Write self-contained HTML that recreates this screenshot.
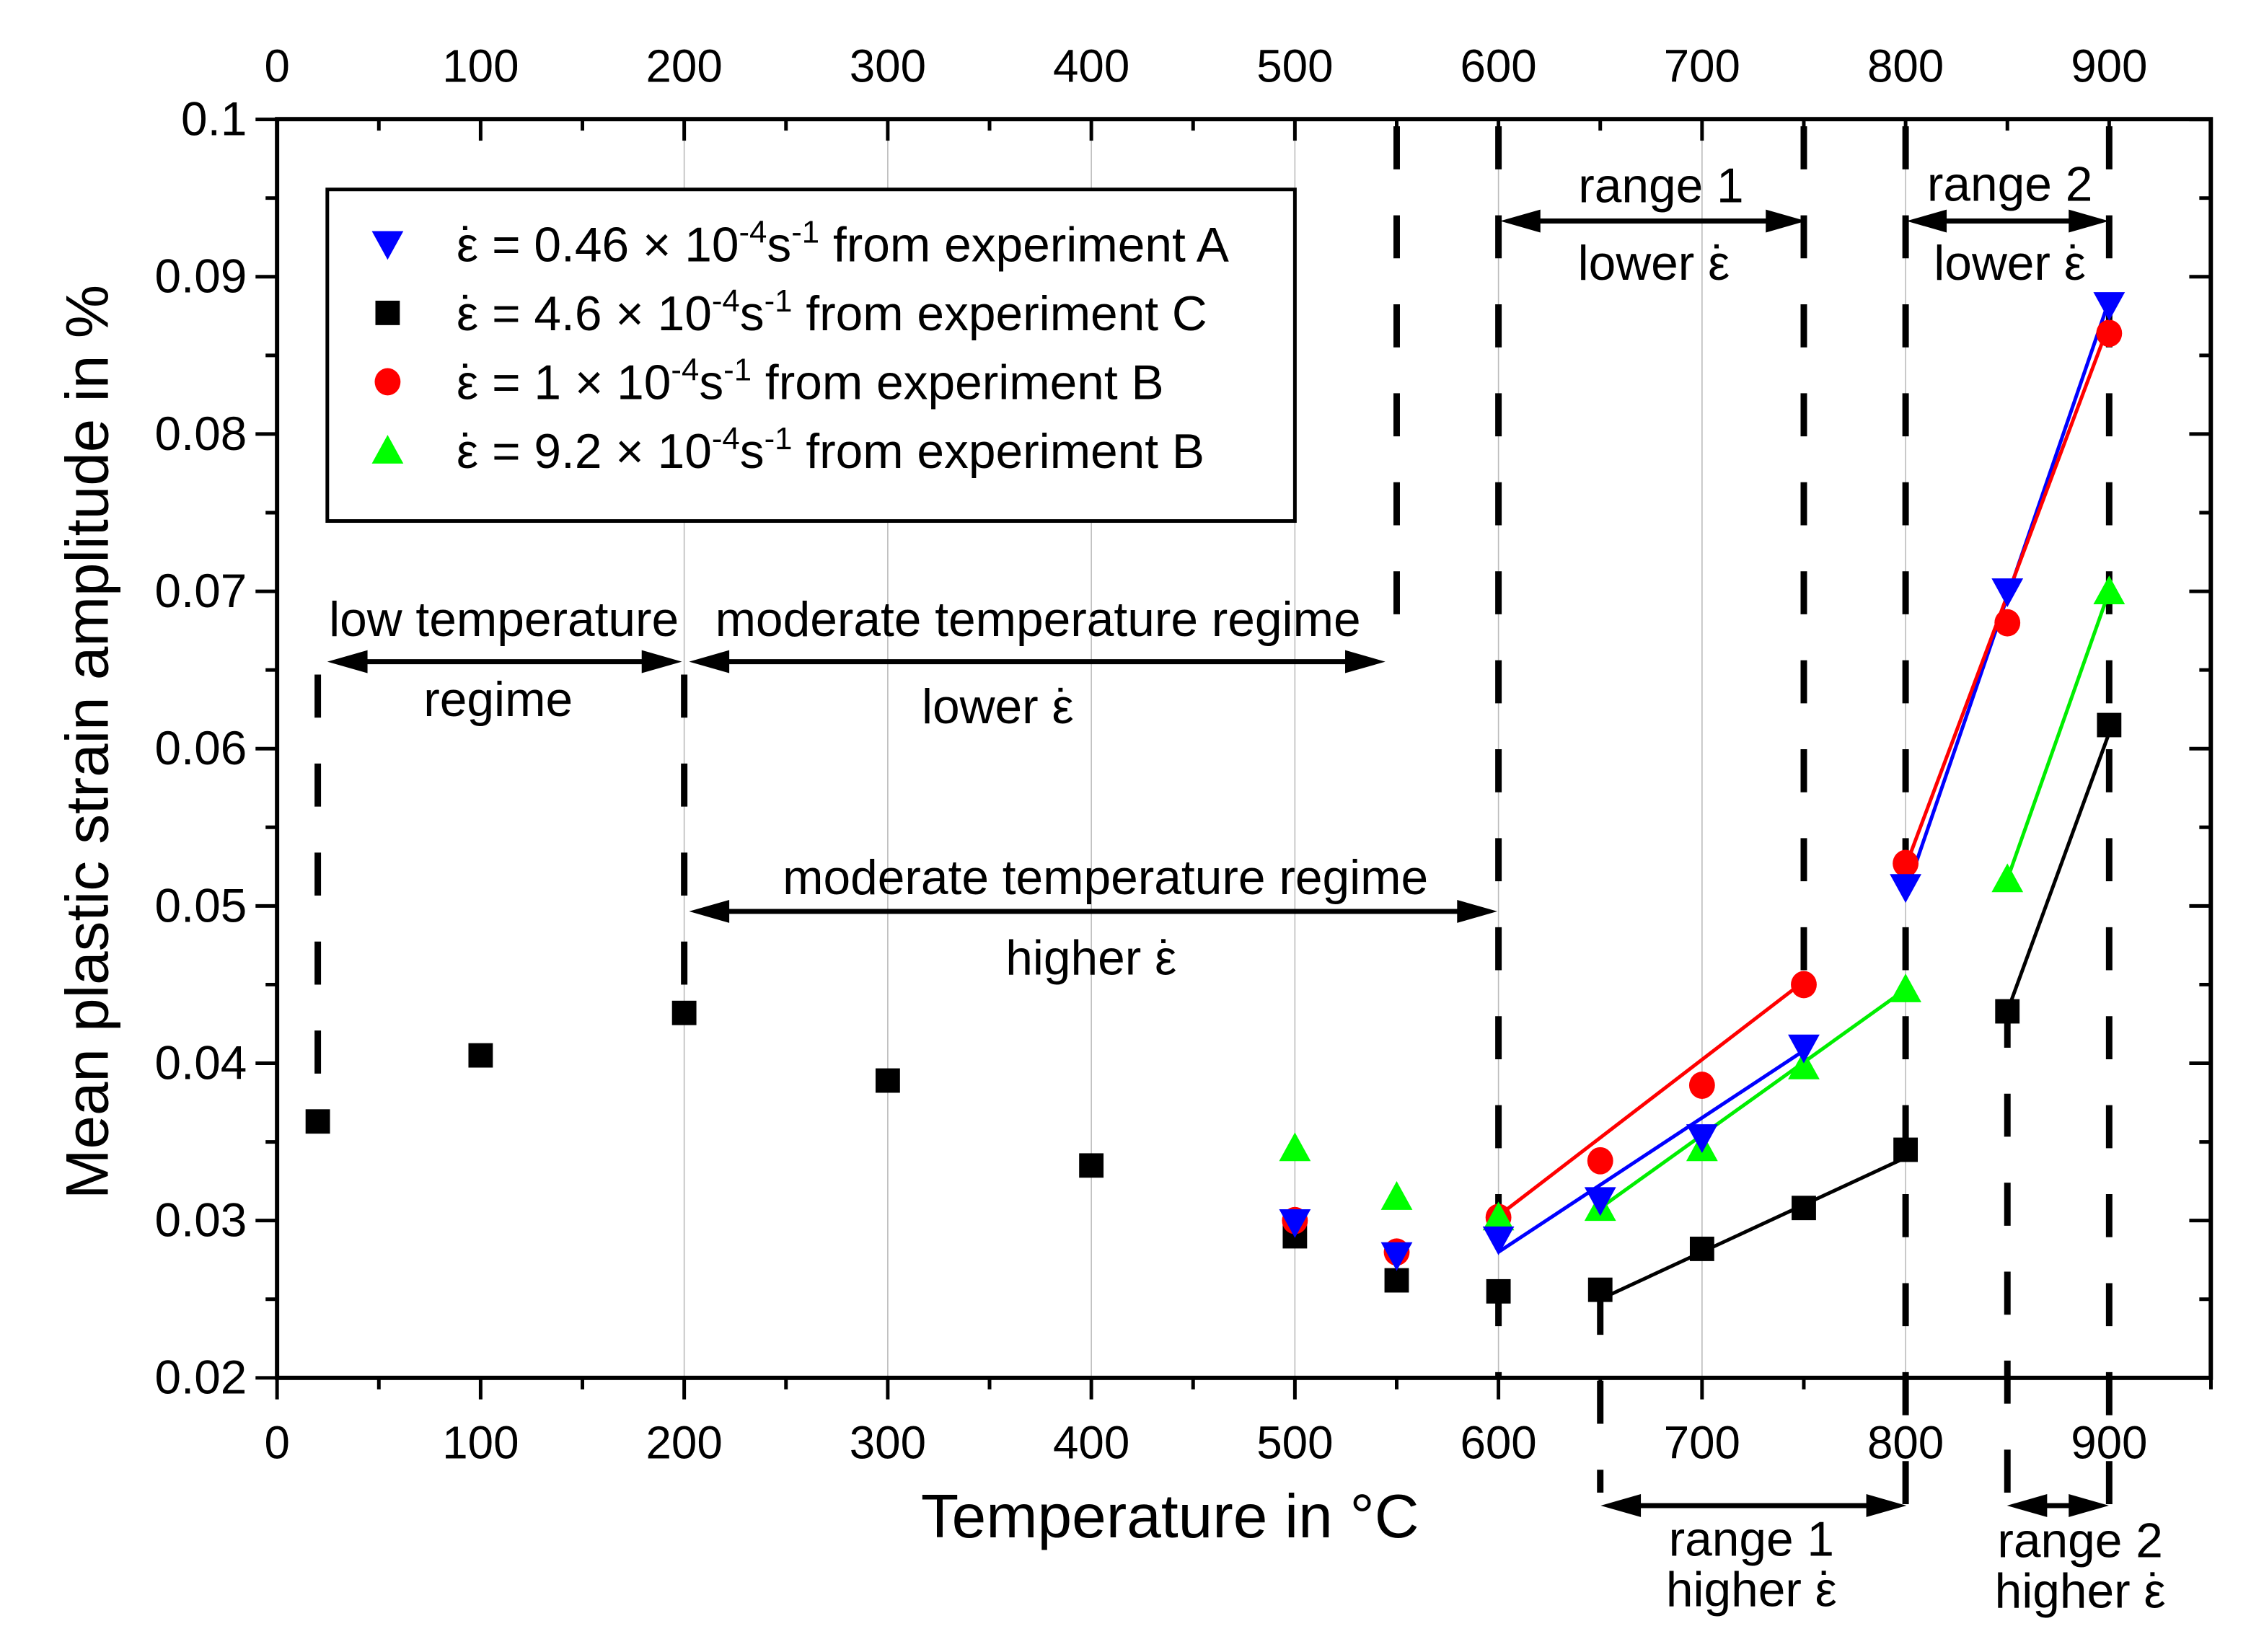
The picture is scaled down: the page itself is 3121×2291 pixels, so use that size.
<!DOCTYPE html>
<html><head><meta charset="utf-8"><style>
html,body{margin:0;padding:0;background:#fff;}
svg{display:block;font-family:"Liberation Sans",Arial,sans-serif;}
</style></head><body>
<svg id="chart" width="3121" height="2291" viewBox="0 0 1568 1151" xmlns="http://www.w3.org/2000/svg">
<rect x="0" y="0" width="1568" height="1151" fill="#fff"/>
<g id="grid"></g>
<g id="dashes"></g>
<g id="axes"></g>
<g id="fits"></g>
<g id="marks"></g>
<g id="legend">
  <rect x="228" y="132" width="674" height="231" fill="#fff" stroke="#000" stroke-width="2.5"/>
</g>
<g id="annot" font-size="34" text-anchor="middle" fill="#000">
  <text x="351" y="443">low temperature</text>
  <text x="347" y="499">regime</text>
  <text x="723" y="443">moderate temperature regime</text>
  <text x="695" y="504">lower ε<tspan dx="-0.39em">˙</tspan></text>
  <text x="770" y="623">moderate temperature regime</text>
  <text x="760" y="679">higher ε<tspan dx="-0.39em">˙</tspan></text>
  <text x="1157" y="141">range 1</text>
  <text x="1152" y="195">lower ε<tspan dx="-0.39em">˙</tspan></text>
  <text x="1400" y="140">range 2</text>
  <text x="1400" y="195">lower ε<tspan dx="-0.39em">˙</tspan></text>
  <text x="1220" y="1084">range 1</text>
  <text x="1220" y="1119">higher ε<tspan dx="-0.39em">˙</tspan></text>
  <text x="1449" y="1085">range 2</text>
  <text x="1449" y="1120">higher ε<tspan dx="-0.39em">˙</tspan></text>
</g>
<g id="arrows"></g>
<text x="815" y="1071" font-size="43" text-anchor="middle">Temperature in °C</text>
<text transform="translate(75,517) rotate(-90)" font-size="42" text-anchor="middle">Mean plastic strain amplitude in %</text>
</svg>
<script>
const tempsC = [20,100,200,300,400,500,550,600,650,700,750,800,850,900];
const valsC  = [0.0363,0.0405,0.0432,0.0389,0.0335,0.0290,0.0262,0.0255,0.0256,0.0282,0.0308,0.0345,0.0433,0.0615];
const tempsAB = [500,550,600,650,700,750,800,850,900];
const valsA  = [0.0299,0.0278,0.0288,0.0313,0.0353,0.0410,0.0512,0.0700,0.0882];
const valsB1 = [0.0300,0.0280,0.0302,0.0338,0.0386,0.0450,0.0527,0.0680,0.0864];
const valsB9 = [0.0346,0.0315,0.0302,0.0308,0.0346,0.0398,0.0447,0.0517,0.0700];
const fitsA  = [[600,0.0280,750,0.0408],[800,0.0508,900,0.0885]];
const fitsB1 = [[600,0.0303,750,0.0452],[800,0.0525,900,0.0870]];
const fitsB9 = [[650,0.0308,800,0.0447],[850,0.0517,900,0.0700]];
const fitsC  = [[650,0.0250,800,0.0340],[850,0.0433,900,0.0610]];
const xTicks = [0,100,200,300,400,500,600,700,800,900];
const yTicks = [0.02,0.03,0.04,0.05,0.06,0.07,0.08,0.09,0.1];
const yTickLabels = ["0.02","0.03","0.04","0.05","0.06","0.07","0.08","0.09","0.1"];

const NS="http://www.w3.org/2000/svg";
const X0=193, XS=1.418, YB=960, YS=10960;
const xp = t => X0 + t*XS;
const yp = v => YB - (v-0.02)*YS;
function mk(parent, tag, attrs){const e=document.createElementNS(NS,tag);for(const k in attrs)e.setAttribute(k,attrs[k]);document.getElementById(parent).appendChild(e);return e;}

for(let t=200;t<=800;t+=100){
  const g=mk('grid','line',{x1:xp(t),x2:xp(t),y1:83,y2:960,stroke:'#bbb','stroke-width':0.8});
  
  
}
const dashSpec=[[20,470,750],[200,470,690],[550,88,448],[600,88,960],[650,900,1040],[750,88,680],[800,88,1050],[850,700,1050],[900,88,1050]];
dashSpec.forEach(d=>{
  const l=mk('dashes','line',{x1:xp(d[0]),x2:xp(d[0]),y1:d[1],y2:d[2],stroke:'#000','stroke-width':4.5,'stroke-dasharray':'30 32'});
  
  
});
const fr=mk('axes','rect',{x:X0,y:83,width:1540-X0,height:877,fill:'none',stroke:'#000','stroke-width':3});


for(let t=0;t<=950;t+=50){
  const maj=t%100===0, L=maj?15:8;
  mk('axes','line',{x1:xp(t),x2:xp(t),y1:960,y2:960+L,stroke:'#000','stroke-width':2.5});
  mk('axes','line',{x1:xp(t),x2:xp(t),y1:83,y2:83+L,stroke:'#000','stroke-width':2.5});
}
xTicks.forEach(t=>{
  const a=mk('axes','text',{x:xp(t),y:1016,'font-size':32,'text-anchor':'middle'});a.textContent=t;
  
  
  const b=mk('axes','text',{x:xp(t),y:57,'font-size':32,'text-anchor':'middle'});b.textContent=t;
  
  
});
for(let i=0;i<=16;i++){
  const v=0.02+i*0.005, maj=i%2===0, L=maj?15:8;
  mk('axes','line',{x1:X0-L,x2:X0,y1:yp(v),y2:yp(v),stroke:'#000','stroke-width':2.5});
  mk('axes','line',{x1:1540-L,x2:1540,y1:yp(v),y2:yp(v),stroke:'#000','stroke-width':2.5});
}
yTicks.forEach((v,i)=>{
  const a=mk('axes','text',{x:172,y:yp(v)+11,'font-size':33,'text-anchor':'end'});a.textContent=yTickLabels[i];
  
  
});
[[fitsA,'#0000ff'],[fitsB1,'#ff0000'],[fitsB9,'#00ee00'],[fitsC,'#000']].forEach(([segs,c])=>{
  segs.forEach(s=>{
    const l=mk('fits','line',{x1:xp(s[0]),y1:yp(s[1]),x2:xp(s[2]),y2:yp(s[3]),stroke:c,'stroke-width':2.5});
    
    
  });
});
function marker(g,type,cx,cy){
  let e;
  if(type==='sq') e=mk(g,'rect',{x:cx-8.5,y:cy-8.5,width:17,height:17,fill:'#000'});
  else if(type==='ci') e=mk(g,'ellipse',{cx:cx,cy:cy,rx:9,ry:9.5,fill:'#ff0000'});
  else if(type==='dn') e=mk(g,'polygon',{points:`${cx-11},${cy-9} ${cx+11},${cy-9} ${cx},${cy+11}`,fill:'#0000ff'});
  else e=mk(g,'polygon',{points:`${cx-11},${cy+9} ${cx+11},${cy+9} ${cx},${cy-11}`,fill:'#00ff00'});
  return e;
}
tempsC.forEach((t,i)=>{const e=marker('marks','sq',xp(t),yp(valsC[i]));
  
  });
tempsAB.forEach((t,i)=>{const e=marker('marks','ci',xp(t),yp(valsB1[i]));
  
  });
tempsAB.forEach((t,i)=>{const e=marker('marks','up',xp(t),yp(valsB9[i]));
  
  });
tempsAB.forEach((t,i)=>{const e=marker('marks','dn',xp(t),yp(valsA[i]));
  
  });
const legTexts=["0.46","4.6","1","9.2"], legExp=["A","C","B","B"], legTypes=['dn','sq','ci','up'];
legTypes.forEach((tp,i)=>{
  const y=170+i*48;
  const m=marker('legend',tp,270,y);
  
  
  const tx=mk('legend','text',{x:318,y:y+12,'font-size':34});
  
  
  tx.innerHTML=`ε<tspan dx="-0.39em">˙</tspan><tspan dx="0.06em"> = ${legTexts[i]} × 10</tspan><tspan dy="-13" font-size="22">-4</tspan><tspan dy="13">s</tspan><tspan dy="-13" font-size="22">-1</tspan><tspan dy="13"> from experiment ${legExp[i]}</tspan>`;
});
const arrowSpec=[[228,475,461],[480,965,461],[480,1043,635],[1045,1258,154],[1328,1469,154],[1115,1328,1049],[1398,1469,1049]];
arrowSpec.forEach(a=>{
  const [x1,x2,y]=a;
  const l=mk('arrows','line',{x1:x1+10,x2:x2-10,y1:y,y2:y,stroke:'#000','stroke-width':3.5});
  
  
  mk('arrows','polygon',{points:`${x1},${y} ${x1+28},${y-8} ${x1+28},${y+8}`,fill:'#000'});
  mk('arrows','polygon',{points:`${x2},${y} ${x2-28},${y-8} ${x2-28},${y+8}`,fill:'#000'});
});
</script>
</body></html>
